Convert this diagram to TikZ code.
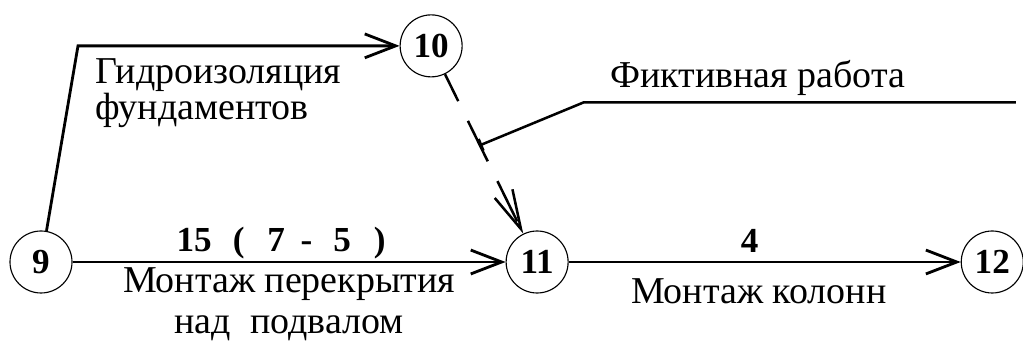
\documentclass[tikz,border=0pt]{standalone}
\usepackage{fontspec}
\setmainfont{Liberation Serif}
\newfontfamily\timesfont{Liberation Serif}
\usetikzlibrary{arrows.meta,positioning,calc}

\begin{document}
\begin{tikzpicture}[>={Straight Barb[length=22pt,width=17pt]},font=\timesfont\fontsize{27}{32}\selectfont]

    \useasboundingbox (-1.025,-2.025) rectangle (24.55,6.55);

    % Define node styles
    \tikzstyle{event} = [draw, circle, line width=0.8pt, minimum size=1.55cm, inner sep=0pt, font=\timesfont\fontsize{25}{29}\selectfont\bfseries]
    \tikzstyle{work} = [->, line width=2pt]
    \tikzstyle{dummy} = [-{Straight Barb[length=28pt,width=14pt]}, line width=1.8pt, dash pattern=on 1.125cm off 0.55cm, dash phase=0.375cm]
    \tikzstyle{dur} = [inner sep=0pt, anchor=base, font=\timesfont\fontsize{25}{29}\selectfont\bfseries]
    \tikzstyle{wtext} = [inner sep=0pt, anchor=north, align=center]

    % Draw nodes
    \node [event] (n9) at (0,0) {9};
    \node [event, right=10.825cm of n9] (n11) {11};
    \node [event, right=9.8cm of n11] (n12) {12};
    \node [event, above=3.825cm of n11, xshift=-2.65cm] (n10) {10};

    % Helper points
    \path (n9 |- n10) ++(0.925,0) coordinate (bend);
    \coordinate (fict) at ($(n10)!0.46!(n11)$);
    \path (fict) ++(2.6,1.075) coordinate (knee);
    \path (knee) ++(10.8,0) coordinate (tail);

    % Draw arrows
    \draw [work] (n9.80) -- (bend) -- (n10);
    \draw [work] (n9) -- (n11)
        node [dur, midway, xshift=-0.2cm, yshift=0.25cm] (d911) {15\hspace{0.6em}(\hspace{0.65em}7\hspace{0.45em}-\hspace{0.6em}5\hspace{0.65em})}
        node [wtext, midway, yshift=-0.1cm, font=\timesfont\fontsize{27}{29}\selectfont] (t911) {Монтаж перекрытия\\над \ подвалом};
    \draw [work] (n11) -- (n12)
        node [dur, midway, xshift=-0.375cm, yshift=0.225cm] (d1112) {4}
        node [wtext, midway, xshift=-0.15cm, yshift=-0.38cm] (t1112) {Монтаж колонн};
    \draw [dummy] (n10) -- (n11);
    \draw [line width=1.8pt, {Bar[width=9pt]}-] (fict) -- (knee) -- (tail);

    % Labels
    \node [inner sep=0pt, anchor=north west, align=left, font=\timesfont\fontsize{27}{26}\selectfont] (t910) at ([shift={(0.425,-0.3)}]bend) {Гидроизоляция\\фундаментов};
    \node [inner sep=0pt, anchor=base] (tfict) at ([shift={(4.35,0.375)}]knee) {Фиктивная работа};

\end{tikzpicture}
\end{document}
